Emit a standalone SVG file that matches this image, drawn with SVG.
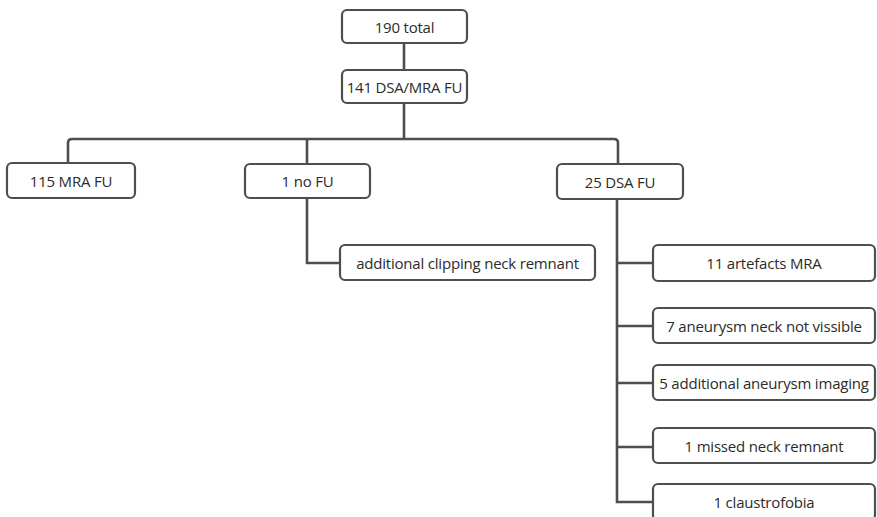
<svg xmlns="http://www.w3.org/2000/svg" width="877" height="517" viewBox="0 0 877 517">
<style>
.box{fill:#fff;stroke:#4a4f4f;stroke-width:2.2}
.lbl{font-family:"Open Sans","Noto Sans",sans-serif;font-size:15px;fill:#2b2b2b;text-anchor:middle;dominant-baseline:central;letter-spacing:-0.2px}
.con{fill:none;stroke:#4a4f4f;stroke-width:2.6}
</style>
<rect width="877" height="517" fill="#fff"/>
<g id="connectors">
<path class="con" d="M404 43V70"/>
<path class="con" d="M404 103V139"/>
<path class="con" d="M68 163V143Q68 139 72 139H614Q618 139 618 143V163"/>
<path class="con" d="M307 139V163"/>
<path class="con" d="M307 198V263H340"/>
<path class="con" d="M617 199V502H653"/>
<path class="con" d="M617 263H653M617 326H653M617 383H653M617 447H653"/>
</g>
<g id="n190"><rect class="box" x="342" y="10" width="125" height="33" rx="5"/><text class="lbl" x="404.5" y="26.5">190 total</text></g>
<g id="n141"><rect class="box" x="342" y="70" width="125" height="33" rx="5"/><text class="lbl" x="404.5" y="86.5">141 DSA/MRA FU</text></g>
<g id="n115"><rect class="box" x="7" y="163" width="128" height="35" rx="5"/><text class="lbl" x="71" y="180.5">115 MRA FU</text></g>
<g id="n1noFU"><rect class="box" x="245" y="164" width="125" height="34" rx="5"/><text class="lbl" x="307.5" y="181">1 no FU</text></g>
<g id="n25"><rect class="box" x="557" y="164" width="126" height="35" rx="5"/><text class="lbl" x="620" y="181.5">25 DSA FU</text></g>
<g id="nclip"><rect class="box" x="340" y="245" width="255" height="35" rx="5"/><text class="lbl" x="467.5" y="262.5">additional clipping neck remnant</text></g>
<g id="n11"><rect class="box" x="653" y="245" width="222" height="36" rx="5"/><text class="lbl" x="764" y="263">11 artefacts MRA</text></g>
<g id="n7"><rect class="box" x="653" y="308" width="222" height="35" rx="5"/><text class="lbl" x="764" y="325.5">7 aneurysm neck not vissible</text></g>
<g id="n5"><rect class="box" x="653" y="365" width="222" height="35" rx="5"/><text class="lbl" x="764" y="382.5">5 additional aneurysm imaging</text></g>
<g id="n1missed"><rect class="box" x="653" y="428" width="222" height="35" rx="5"/><text class="lbl" x="764" y="445.5">1 missed neck remnant</text></g>
<g id="n1claus"><rect class="box" x="653" y="484" width="222" height="36" rx="5"/><text class="lbl" x="764" y="502">1 claustrofobia</text></g>
</svg>
